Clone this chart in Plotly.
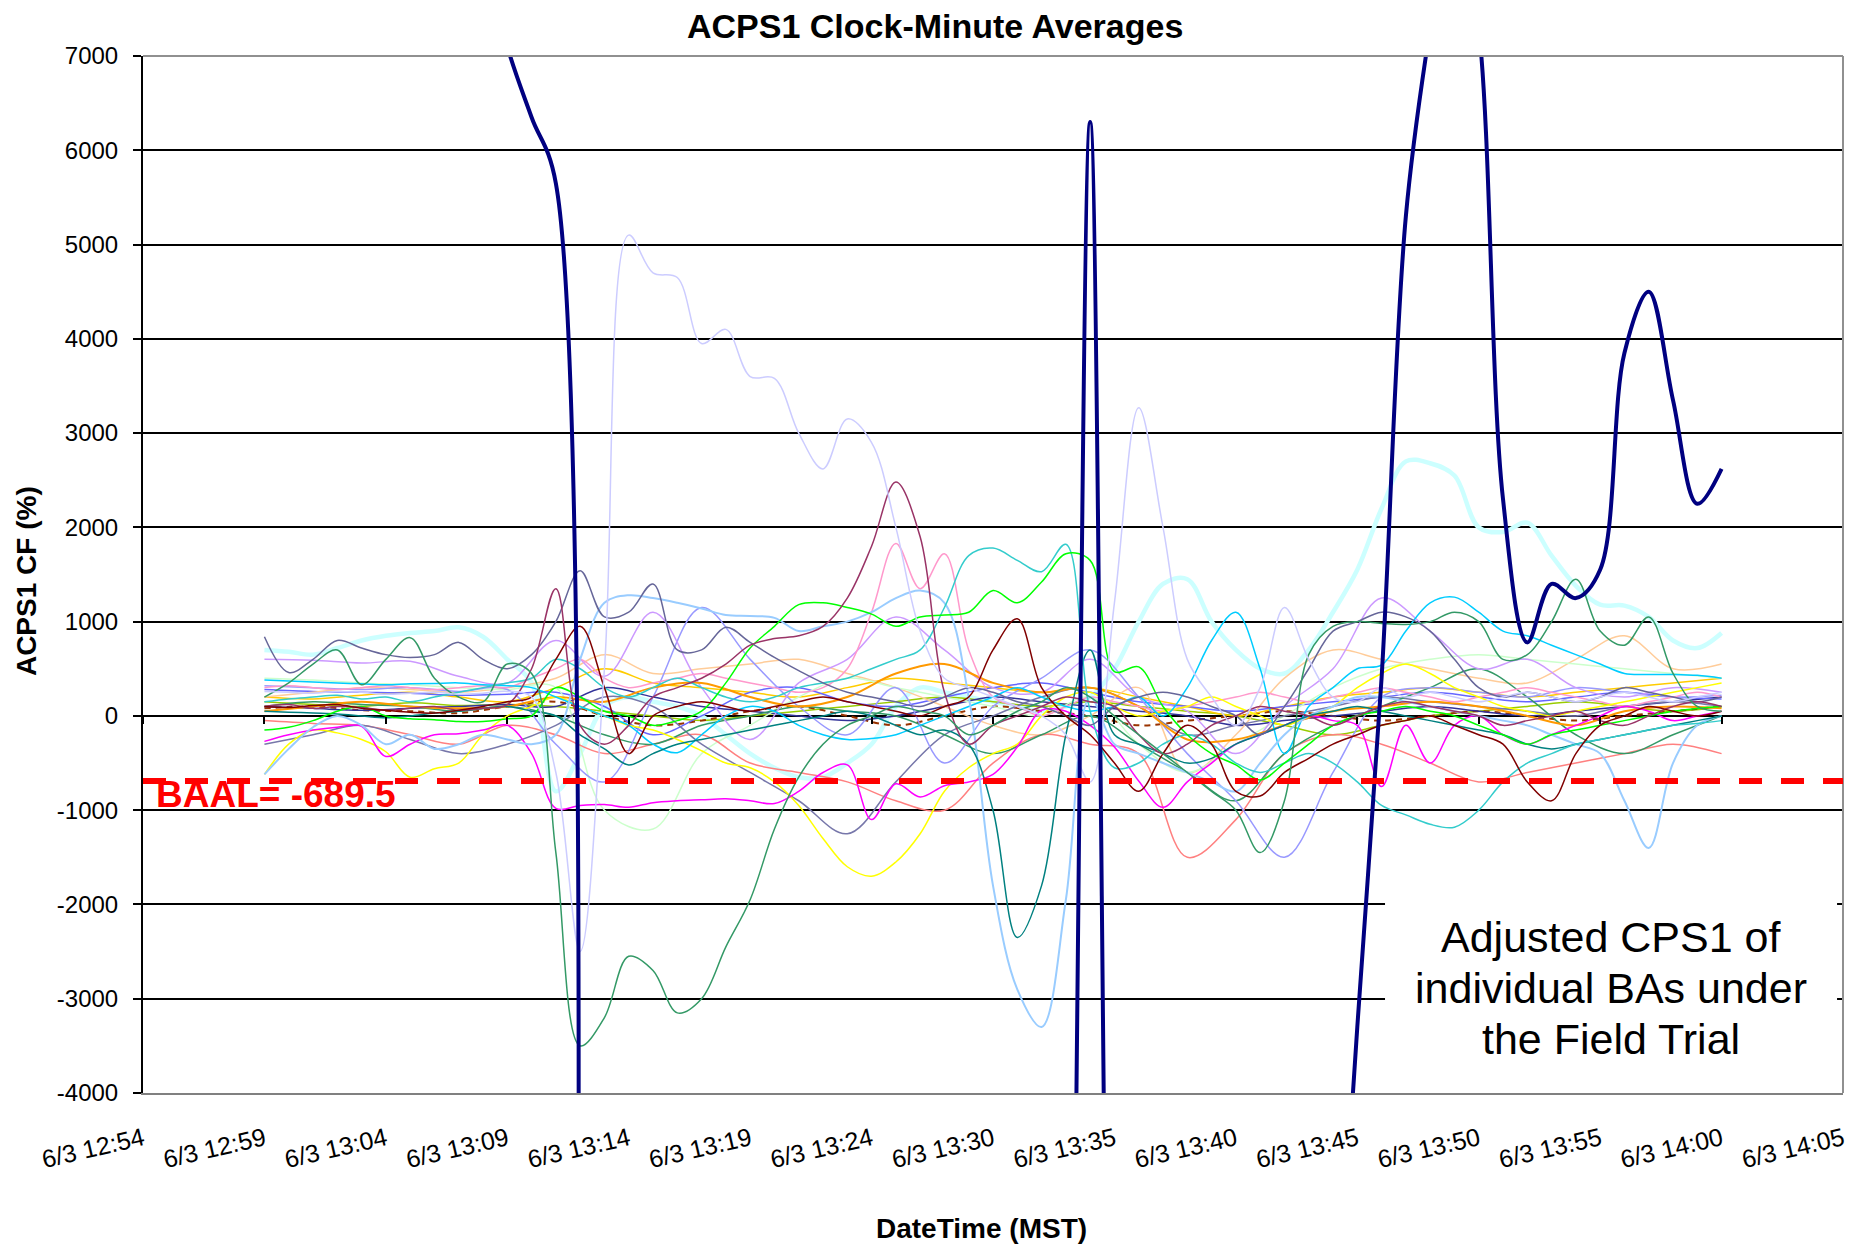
import plotly.graph_objects as go

FONT = "Liberation Sans, Arial, sans-serif"

# ---- time grid (minutes after 12:00) ----
MINUTES = list(range(60, 121))        # 13:00 .. 14:00, one value per clock minute
MINUTES_2 = list(range(60, 121, 2))   # every second minute
X_RANGE = [55, 125]
TICK_VALS = [55, 60, 65, 70, 75, 80, 85, 90, 95, 100, 105, 110, 115, 120, 125]
TICK_TEXT = ["6/3 12:54", "6/3 12:59", "6/3 13:04", "6/3 13:09", "6/3 13:14",
             "6/3 13:19", "6/3 13:24", "6/3 13:30", "6/3 13:35", "6/3 13:40",
             "6/3 13:45", "6/3 13:50", "6/3 13:55", "6/3 14:00", "6/3 14:05"]
Y_RANGE = [-4000, 7000]
Y_TICK_VALS = [-4000, -3000, -2000, -1000, 0, 1000, 2000, 3000, 4000, 5000, 6000, 7000]
Y_TICK_TEXT = ["-4000", "-3000", "-2000", "-1000", "0", "1000", "2000", "3000",
               "4000", "5000", "6000", "7000"]
BAAL = -689.5

# ---- BA series (ACPS1 CF %) ----
NAVY = [11800, 12600, 13400, 13900, 13500, 12700, 11900, 10800, 9600, 8200,
        7100, 6350, 5650, -21000, -27000, -30000, -31000, -30500, -29000, -28000,
        -27500, -27000, -26500, -26000, -25500, -25000, -24500, -24000, -23500, -23000,
        -22000, -21000, -19000, -12000, 6300, -12500, -20000, -24000, -26000, -27000,
        -26000, -24000, -20000, -14000, -7500, -3300, 400, 5300, 7300, 8800,
        7300, 2300, 780, 1400, 1250, 1550, 3850, 4500, 3350, 2250, 2620]
LAVENDER = [260, 250, 240, 260, 250, 230, 240, 250, 230, 240,
            260, 200, -600, -2500, 500, 5100, 4700, 4650, 3950, 4100,
            3600, 3580, 3000, 2620, 3150, 2900, 2000, 900, 400, 300,
            200, 100, 0, -200, -700, 1200, 3270, 2000, 600, 200,
            -100, 300, 1150, 600, 200, 150, 300, 200, 250, 200,
            150, 200, 250, 200, 150, 200, 250, 200, 150, 200, 250]
LIGHT_CYAN = [700, 680, 650, 720, 800, 850, 880, 900, 940, 840,
              600, 350, -800, -400, 100, 200, 150, 100, 0, -200,
              -400, -550, -650, -650, -500, -300, 100, 300, 250, 200,
              150, 100, 50, 100, 200, 500, 1000, 1400, 1450, 1000,
              700, 500, 450, 700, 1100, 1550, 2200, 2700, 2680, 2550,
              2000, 1950, 2050, 1700, 1380, 1180, 1170, 1050, 800, 720, 880]
SEA_GREEN = [200, 350, 550, 700, 330, 600, 830, 400, 200, 150,
             550, 450, -1450, -3500, -3200, -2550, -2700, -3150, -3000, -2450,
             -1950, -1200, -650, -300, -100, 0, 100, 50, 0, -200,
             -100, 50, 150, 300, 200, 0, -200, -400, -600, -800,
             -1000, -1450, -900, 650, 950, 1000, 980, 970, 1000, 1100,
             1000, 600, 650, 1000, 1450, 900, 750, 1050, 450, 100, 50]
PLUM = [100, 120, 80, 100, 90, 60, 80, 100, 60, 80,
        120, 500, 1350, -100, -300, -100, 200, 300, 400, 550,
        750, 820, 850, 950, 1250, 1800, 2480, 1900, 250, -300,
        -100, 0, 100, 200, 150, 100, -200, -400, -300, -100,
        0, 100, 50, 0, -100, 0, 100, 150, 100, 50,
        0, -100, -50, 0, 50, -50, -100, 0, 100, 150, 100]
BLUE_GRAY = [840, 460, 600, 800, 720, 650, 620, 650, 780, 600,
             500, 650, 1000, 1540, 1050, 1100, 1400, 700, 700, 940,
             780, 620, 480, 350, 250, 200, 150, 100, 200, 300,
             250, 150, 100, 0, -100, 100, 200, 250, 200, 100,
             0, -200, 100, 500, 900, 1000, 1100, 1050, 900, 600,
             300, 200, 250, 200, 150, 200, 300, 250, 200, 150, 200]
GREEN = [-150, -120, -50, 50, 100, 0, -30, -40, -60, -60,
         -30, 0, 300, 200, 50, 0, -100, -50, 50, 350,
         720, 950, 1180, 1200, 1150, 1080, 950, 1050, 1070, 1100,
         1330, 1200, 1420, 1720, 1650, 470, 520, 100, -200, -400,
         -520, -680, -500, -300, -100, 0, 50, 100, 50, 0,
         -100, -200, -300, -200, -150, -100, -50, 0, 50, 80, 100]
AQUA = [150, 180, 200, 220, 180, 200, 150, 200, 250, 300,
        350, 400, 600, 500, 300, 200, 300, 400, 300, 200,
        150, 200, 300, 350, 400, 500, 600, 700, 1150, 1700,
        1780, 1650, 1530, 1820, 50, -550, -500, -300, -200, -300,
        -500, -600, -500, -400, -500, -700, -950, -1050, -1150, -1180,
        -1000, -700, -500, -400, -300, -250, -200, -150, -100, -80, -50]
TEAL = [50, 40, 30, 20, 0, -20, 0, 30, 50, 80,
        100, 50, 0, -200, -350, -520, -400, -300, -250, -200,
        -150, -100, -50, 0, 50, 0, -100, -200, -150, -300,
        -1000, -2350, -1800, -200, 700, -200, -300, -400, -500, -450,
        -300, -200, -100, 0, 50, 100, 50, 0, -50, -100,
        -150, -200, -300, -350, -300, -250, -200, -150, -100, -50, 0]
LIGHT_BLUE = [-620, -350, -120, 0, -100, -300, -200, -350, -300, -200,
              -250, -300, -200, 600, 1200, 1280, 1250, 1200, 1140, 1070,
              1060, 1040, 900, 950, 1000, 1100, 1250, 1330, 1200, 200,
              -1800, -2900, -3300, -1950, 200, -300, -400, -500, -600, -700,
              -800, -500, -200, 0, 100, 200, 200, 150, 100, 50,
              0, -50, -100, -200, -300, -400, -900, -1400, -500, -100, 0]
YELLOW = [-620, -300, -150, -180, -250, -380, -650, -560, -500, -200,
          0, 100, 200, 100, 0, -100, -150, -250, -370, -500,
          -550, -700, -950, -1300, -1600, -1700, -1550, -1250, -800, -550,
          -400, -300, 0, 200, 250, 100, 0, 50, 100, 200,
          100, 0, -100, 0, 100, 300, 450, 550, 450, 300,
          200, 100, 50, 0, 50, 100, 150, 200, 250, 300, 350]
MAGENTA = [-270, -200, -150, -120, -110, -430, -300, -200, -190, -150,
           -100, -400, -980, -950, -940, -970, -920, -900, -890, -880,
           -900, -930, -800, -600, -520, -1100, -720, -860, -740, -700,
           -620, -330, 60, 50, -100, -330, -690, -970, -700, -500,
           -300, -200, -100, 0, -50, -100, -750, -100, -500, -100,
           0, -200, -300, -200, -100, 0, 100, 50, -50, 0, 50]
PINK = [300, 320, 300, 280, 300, 320, 300, 280, 300, 320,
        300, 400, 500, 600, 400, 300, 350, 400, 450, 400,
        350, 300, 250, 300, 500, 1100, 1830, 1350, 1720, 700,
        200, 100, 0, 100, 200, 150, 100, 50, 100, 150,
        200, 250, 200, 150, 200, 250, 300, 250, 200, 150,
        200, 250, 300, 250, 200, 150, 100, 150, 200, 250, 200]
SKY = [380, 370, 360, 350, 340, 330, 340, 345, 350, 330,
       320, 300, 200, 100, 0, -100, -300, -390, -200, 0,
       100, 50, -100, -200, -250, -240, -200, -100, 0, 100,
       200, 300, 200, 100, 50, 100, 200, 0, 300, 800,
       1100, 500, -400, 100, 300, 500, 540, 900, 1200, 1260,
       1100, 900, 850, 750, 650, 550, 450, 440, 440, 430, 400]
MAROON = [100, 90, 110, 120, 80, 60, 40, 30, 60, 100,
          150, 200, 600, 950, 300, -400, 0, 100, 150, 100,
          50, 100, 150, 200, 150, 100, 50, 0, 100, 200,
          700, 1030, 300, 0, -200, -500, -800, -400, -100, -300,
          -800, -850, -600, -450, -300, -200, -100, -50, 0, -100,
          -200, -300, -700, -900, -400, -100, 0, 100, 50, 0, 50]

# series sampled every second minute
PURPLE = [600, 590, 560, 580, 420, 350, 800, 420, 1100, 300, -250, 350, 600, 1050, 700, 300,
          250, 600, 200, 50, -400, 100, 500, 1250, 900, 500, 600, 300, 200, 300, 250]
PERIWINKLE = [320, 300, 280, 300, 260, 280, -300, -700, 200, 1150, 600, 100, -200, 300, -500, 100,
              400, 700, 200, -400, -900, -1500, -600, 200, 300, 250, 200, 300, 250, 200, 220]
TAN = [200, 250, 300, 280, 250, 300, 400, 650, 450, 500, 550, 600, 450, 300, 100, -100,
       -200, 0, 300, -600, -200, 400, 700, 600, 500, 400, 350, 600, 850, 500, 550]
ORANGE = [50, 100, 150, 100, 80, 100, 200, 150, 300, 350, 200, 100, 200, 450, 550, 350,
          250, 300, 100, -250, -250, -100, 50, 100, 150, 100, 0, -100, 50, 100, 80]
PALE_GREEN = [400, 380, 350, 330, 300, 280, 300, -1000, -1200, -400, -100, 200, 400, 300, 200, 100,
              0, 200, -300, -600, -300, 0, 300, 500, 600, 650, 600, 550, 500, 450, 400]
BLUE = [280, 260, 250, 240, 220, 230, 250, 100, -200, 0, 250, 300, 150, 100, 200, 300,
        350, 250, 150, 100, 50, 100, 150, 200, 250, 200, 150, 200, 250, 200, 180]
OLIVE = [150, 120, 100, 140, 110, 120, 100, 50, 0, -50, 0, 50, 100, 150, 200, 150,
         100, 150, 100, 50, 0, -100, -200, -100, 0, 50, 100, 150, 100, 50, 100]
BROWN = [80, 100, 60, 50, 30, 100, 150, 0, -100, -50, 50, 100, 0, -100, 0, 100,
         50, 0, -100, -50, 0, 50, 0, -50, 0, 50, 0, -50, 0, 50, 100]
SALMON = [-50, -80, -100, -200, -300, -100, -200, -400, -300, -200, -500, -600, -700, -900, -1000, -500,
          -200, -300, -400, -1500, -1100, -400, -200, -300, -500, -700, -600, -500, -400, -300, -400]
SLATE = [-300, -200, -100, -250, -400, -300, -100, 200, 100, -300, -600, -900, -1250, -700, -200, 0,
         200, 300, 100, -200, -100, 0, 100, 200, 150, 100, 50, 0, 100, 150, 100]
DARK_BLUE = [100, 80, 60, 80, 100, 120, 100, 300, 200, 100, 50, 0, -50, 0, 100, 200,
             150, 100, 50, 0, -100, -50, 0, 50, 100, 50, 0, 50, 100, 150, 200]
GOLD = [200, 180, 220, 250, 200, 150, 300, 500, 350, 300, 250, 200, 300, 400, 350, 300,
        250, 300, 200, 100, 0, 100, 200, 250, 300, 250, 200, 250, 300, 350, 400]
SEA_GREEN_2 = [100, 150, 120, 100, 50, 100, 0, -200, -300, -100, 0, 100, 50, 0, -200, -400,
               -200, 0, -300, -600, -900, -400, -100, 100, 300, 500, 200, -200, -400, -200, 0]

# drawing order / styles: (values, x, colour, width, dash)
SERIES = [
    (LIGHT_CYAN, MINUTES, "#CCFFFF", 4.5, "solid"),
    (OLIVE, MINUTES_2, "#99CC00", 1.5, "solid"),
    (BROWN, MINUTES_2, "#993300", 2, "6px,5px"),
    (DARK_BLUE, MINUTES_2, "#333399", 1.5, "solid"),
    (GOLD, MINUTES_2, "#FFCC00", 1.5, "solid"),
    (BLUE, MINUTES_2, "#6666FF", 1.5, "solid"),
    (TAN, MINUTES_2, "#FFCC99", 1.5, "solid"),
    (PALE_GREEN, MINUTES_2, "#CCFFCC", 1.5, "solid"),
    (SALMON, MINUTES_2, "#FF8080", 1.5, "solid"),
    (SLATE, MINUTES_2, "#7777AA", 1.5, "solid"),
    (SEA_GREEN_2, MINUTES_2, "#339966", 1.5, "solid"),
    (PERIWINKLE, MINUTES_2, "#9999FF", 1.5, "solid"),
    (PURPLE, MINUTES_2, "#CC99FF", 1.5, "solid"),
    (ORANGE, MINUTES_2, "#FF9900", 2, "solid"),
    (PINK, MINUTES, "#FF99CC", 1.5, "solid"),
    (YELLOW, MINUTES, "#FFFF00", 1.5, "solid"),
    (MAGENTA, MINUTES, "#FF00FF", 1.5, "solid"),
    (SKY, MINUTES, "#00CCFF", 1.5, "solid"),
    (LIGHT_BLUE, MINUTES, "#99CCFF", 2, "solid"),
    (TEAL, MINUTES, "#008080", 1.5, "solid"),
    (AQUA, MINUTES, "#33CCCC", 1.5, "solid"),
    (GREEN, MINUTES, "#00FF00", 1.5, "solid"),
    (BLUE_GRAY, MINUTES, "#666699", 1.5, "solid"),
    (PLUM, MINUTES, "#993366", 1.5, "solid"),
    (MAROON, MINUTES, "#800000", 1.5, "solid"),
    (SEA_GREEN, MINUTES, "#339966", 1.5, "solid"),
    (LAVENDER, MINUTES, "#CCCCFF", 1.5, "solid"),
    (NAVY, MINUTES, "#000080", 4, "solid"),
]

fig = go.Figure()
for vals, xs, color, width, dash in SERIES:
    fig.add_trace(go.Scatter(
        x=xs, y=vals, mode="lines",
        line=dict(color=color, width=width, shape="spline", smoothing=1, dash=dash),
        hoverinfo="skip", showlegend=False))

# invisible trace that carries the axis drawn through y = 0
fig.add_trace(go.Scatter(x=[MINUTES[0]], y=[0], xaxis="x2", mode="markers",
                         marker=dict(opacity=0), hoverinfo="skip", showlegend=False))

# the page body adds an 8px margin, so the figure is 8px smaller than the window
fig.update_layout(
    width=1852, height=1236,
    margin=dict(l=135, r=17, t=48, b=151),
    paper_bgcolor="white", plot_bgcolor="white",
    showlegend=False,
    xaxis=dict(range=X_RANGE, tickmode="array", tickvals=TICK_VALS, ticktext=TICK_TEXT,
               tickangle=-13, showgrid=False, zeroline=False,
               showline=True, linecolor="#808080", linewidth=2, ticks="",
               tickfont=dict(family=FONT, size=25, color="black"),
               ticklabelstandoff=20),
    xaxis2=dict(overlaying="x", matches="x", anchor="free",
                position=(0 - Y_RANGE[0]) / (Y_RANGE[1] - Y_RANGE[0]), side="bottom",
                tickmode="array", tickvals=TICK_VALS, ticks="outside", ticklen=7,
                tickwidth=1.5, tickcolor="black", showticklabels=False,
                showgrid=False, zeroline=False, showline=False),
    yaxis=dict(range=Y_RANGE, tickmode="array", tickvals=Y_TICK_VALS, ticktext=Y_TICK_TEXT,
               showgrid=True, gridcolor="black",
               gridwidth=1.5, zeroline=False, showline=True, linecolor="black",
               linewidth=2, ticks="outside", ticklen=8, tickwidth=1.5, tickcolor="black",
               tickfont=dict(family=FONT, size=24, color="black"),
               ticklabelstandoff=10),
    shapes=[
        dict(type="line", xref="paper", yref="paper", x0=0, x1=1, y0=1, y1=1,
             line=dict(color="#909090", width=2), layer="above"),
        dict(type="line", xref="paper", yref="paper", x0=1, x1=1, y0=0, y1=1,
             line=dict(color="#909090", width=2), layer="above"),
        dict(type="rect", xref="paper", yref="paper", x0=0.7306, x1=0.9965, y0=0.003, y1=0.2054,
             fillcolor="white", line=dict(width=0), layer="above"),
        dict(type="line", xref="paper", yref="y", x0=0, x1=1, y0=BAAL, y1=BAAL,
             line=dict(color="#FF0000", width=6, dash="23px,19px"), layer="above"),
    ],
    annotations=[
        dict(text="<b>ACPS1 Clock-Minute Averages</b>", xref="paper", yref="paper",
             x=0.4659, y=1.029, xanchor="center", yanchor="middle", showarrow=False,
             font=dict(family=FONT, size=34, color="black")),
        dict(text="<b>DateTime (MST)</b>", xref="paper", yref="paper",
             x=0.4935, y=-0.1302, xanchor="center", yanchor="middle", showarrow=False,
             font=dict(family=FONT, size=28, color="black")),
        dict(text="<b>ACPS1 CF (%)</b>", xref="paper", yref="paper", textangle=-90,
             x=-0.0688, y=0.4937, xanchor="center", yanchor="middle", showarrow=False,
             font=dict(family=FONT, size=28, color="black")),
        dict(text="<b>BAAL= -689.5</b>", xref="paper", yref="paper",
             x=0.0065, y=0.2874, xanchor="left", yanchor="middle", showarrow=False,
             font=dict(family=FONT, size=37, color="#FF0000")),
        dict(text="Adjusted CPS1 of", xref="paper", yref="paper", x=0.8635, y=0.1504,
             xanchor="center", yanchor="middle", showarrow=False,
             font=dict(family=FONT, size=43, color="black")),
        dict(text="individual BAs under", xref="paper", yref="paper", x=0.8635, y=0.1013,
             xanchor="center", yanchor="middle", showarrow=False,
             font=dict(family=FONT, size=43, color="black")),
        dict(text="the Field Trial", xref="paper", yref="paper", x=0.8635, y=0.0521,
             xanchor="center", yanchor="middle", showarrow=False,
             font=dict(family=FONT, size=43, color="black")),
    ],
)

fig.write_html("out.html", config={"displayModeBar": False})
